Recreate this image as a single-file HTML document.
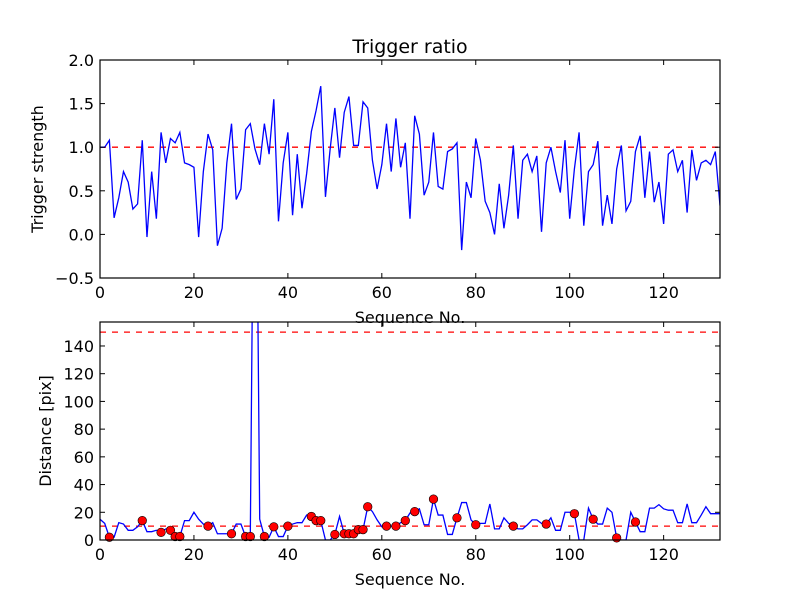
<!DOCTYPE html>
<html><head><meta charset="utf-8"><title>Trigger ratio</title>
<style>
html,body{margin:0;padding:0;background:#fff;}
svg{display:block;font-family:"DejaVu Sans","Liberation Sans",sans-serif;}
</style></head>
<body>
<svg id="chart" width="800" height="600" viewBox="0 0 800 600" xmlns="http://www.w3.org/2000/svg">
<rect x="0" y="0" width="800" height="600" fill="#fff"/>
</svg>
<script>
const triggerStrength = [1.0,1.0,1.08,0.19,0.42,0.72,0.6,0.29,0.35,1.08,-0.03,0.72,0.18,1.17,0.82,1.1,1.05,1.17,0.82,0.8,0.77,-0.03,0.72,1.15,0.97,-0.13,0.07,0.82,1.27,0.4,0.52,1.2,1.27,0.98,0.8,1.27,0.92,1.55,0.15,0.82,1.17,0.22,0.92,0.3,0.7,1.18,1.42,1.7,0.43,0.98,1.45,0.88,1.4,1.58,1.02,1.02,1.52,1.45,0.85,0.52,0.8,1.27,0.72,1.33,0.77,1.05,0.18,1.36,1.15,0.45,0.6,1.17,0.55,0.52,0.95,0.98,1.05,-0.18,0.6,0.42,1.1,0.85,0.38,0.25,0.0,0.58,0.07,0.45,1.02,0.18,0.85,0.92,0.72,0.9,0.03,0.82,1.0,0.72,0.48,1.08,0.18,0.75,1.17,0.1,0.72,0.8,1.07,0.1,0.45,0.12,0.75,1.02,0.27,0.38,0.95,1.13,0.42,0.95,0.37,0.6,0.12,0.92,0.97,0.72,0.85,0.25,0.97,0.62,0.82,0.85,0.8,0.95,0.33];
const distance = [15,12,2,2,12.5,11.5,7,7,9.5,14,6,6,7,5.5,8,7,2.5,2.5,14,14,20,15,11.5,10,12.5,4.5,4.5,4.5,4.5,11.5,11.5,2.5,2.5,400,15,2.5,2,9.5,2.5,2.5,10,11.5,12.5,12.5,18,17,14,14,0,0,4,17,4.5,4.5,4.5,7.5,7.5,24,20.5,14.5,9.5,10,10,10,12.5,14,19.5,20.5,22.5,11,11,29.5,18,18,4,4,16,27,27,14.5,11,12,12,26,8,8,16,12,10,8,8,11,14.5,14.5,12,11.5,16,7,7,20,20,19,0,0,23,15,11.5,11.5,23,20,1.5,0,0,20,13,6,6,23,23,25.5,22.5,21.5,21.5,12.5,12.5,26,12.5,12.5,18,24,19,19,19];
const markedIdx = [2,9,13,15,16,17,23,28,31,32,35,37,40,45,46,47,50,52,53,54,55,56,57,61,63,65,67,71,76,80,88,95,101,105,110,114];
const xTicks = [0,20,40,60,80,100,120];
const topYTicks = [-0.5,0.0,0.5,1.0,1.5,2.0];
const botYTicks = [0,20,40,60,80,100,120,140];
const topThreshold = [1.0];
const botThresholds = [10,150];

const NS = "http://www.w3.org/2000/svg";
const svg = document.getElementById('chart');
function mk(tag, attrs, parent){const e=document.createElementNS(NS,tag);for(const k in attrs)e.setAttribute(k,attrs[k]);(parent||svg).appendChild(e);return e;}

function drawPanel(p){
  const X = v => p.x0 + (v - 0) / 132 * (p.x1 - p.x0);
  const Y = v => p.y1 - (v - p.ymin) / (p.ymax - p.ymin) * (p.y1 - p.y0);
  const g = mk('g', {});
  
  
  const cid = p.name + '-clip';
  const cp = mk('clipPath', {id: cid}, g);
  mk('rect', {x:p.x0, y:p.y0, width:p.x1-p.x0, height:p.y1-p.y0}, cp);
  const plot = mk('g', {'clip-path':'url(#'+cid+')'}, g);
  p.thresholds.forEach(t => {
    const l = mk('line', {x1:p.x0, x2:p.x1, y1:Y(t), y2:Y(t), stroke:'#ff0000', 'stroke-width':1.3, 'stroke-dasharray':'6,6'}, plot);
    
    
  });
  const pts = p.data.map((v,i) => X(i).toFixed(2)+','+Y(v).toFixed(2)).join(' ');
  const pl = mk('polyline', {points:pts, fill:'none', stroke:'#0000ff', 'stroke-width':1.3, 'stroke-linejoin':'miter'}, plot);
  
  
  if (p.marks) {
    p.marks.forEach(i => {
      const c = mk('circle', {cx:X(i), cy:Y(p.data[i]), r:4.3, fill:'#ff0000', stroke:'#000', 'stroke-width':0.6}, g);
      
      
    });
  }
  const fr = mk('rect', {x:p.x0, y:p.y0, width:p.x1-p.x0, height:p.y1-p.y0, fill:'none', stroke:'#000', 'stroke-width':1.2}, g);
  
  
  xTicks.forEach(t => {
    const x = X(t);
    mk('line', {x1:x, x2:x, y1:p.y1, y2:p.y1-5, stroke:'#000', 'stroke-width':1}, g);
    mk('line', {x1:x, x2:x, y1:p.y0, y2:p.y0+5, stroke:'#000', 'stroke-width':1}, g);
    const tx = mk('text', {x:x, y:p.y1+20, 'text-anchor':'middle', 'font-size':16, fill:'#000'}, g);
    tx.textContent = t;
    
    
  });
  p.yTicks.forEach(t => {
    const y = Y(t);
    mk('line', {x1:p.x0, x2:p.x0+5, y1:y, y2:y, stroke:'#000', 'stroke-width':1}, g);
    mk('line', {x1:p.x1, x2:p.x1-5, y1:y, y2:y, stroke:'#000', 'stroke-width':1}, g);
    const ty = mk('text', {x:p.x0-6, y:y+6, 'text-anchor':'end', 'font-size':16, fill:'#000'}, g);
    ty.textContent = p.fmt(t);
    
    
  });
  const xl = mk('text', {x:(p.x0+p.x1)/2, y:p.y1+45, 'text-anchor':'middle', 'font-size':16, fill:'#000'}, g);
  xl.textContent = 'Sequence No.';
  
  
  const yl = mk('text', {x:0, y:0, 'text-anchor':'middle', 'font-size':16, fill:'#000', transform:'translate('+p.ylx+','+((p.y0+p.y1)/2)+') rotate(-90)'}, g);
  yl.textContent = p.ylabel;
  
  
}

const title = mk('text', {x:410, y:53, 'text-anchor':'middle', 'font-size':19, fill:'#000'});
title.textContent = 'Trigger ratio';



drawPanel({name:'trigger-strength-panel', seriesName:'trigger-strength-line', x0:100, x1:720, y0:60, y1:278, ymin:-0.5, ymax:2.0,
  data:triggerStrength, yTicks:topYTicks, thresholds:topThreshold, fmt:t=>(t<0?'\u2212':'')+Math.abs(t).toFixed(1), ylabel:'Trigger strength', ylx:43});
drawPanel({name:'distance-panel', seriesName:'distance-line', x0:100, x1:720, y0:322, y1:540, ymin:0, ymax:157.3,
  data:distance, marks:markedIdx, yTicks:botYTicks, thresholds:botThresholds, fmt:t=>String(t), ylabel:'Distance [pix]', ylx:51});
</script>
</body></html>
